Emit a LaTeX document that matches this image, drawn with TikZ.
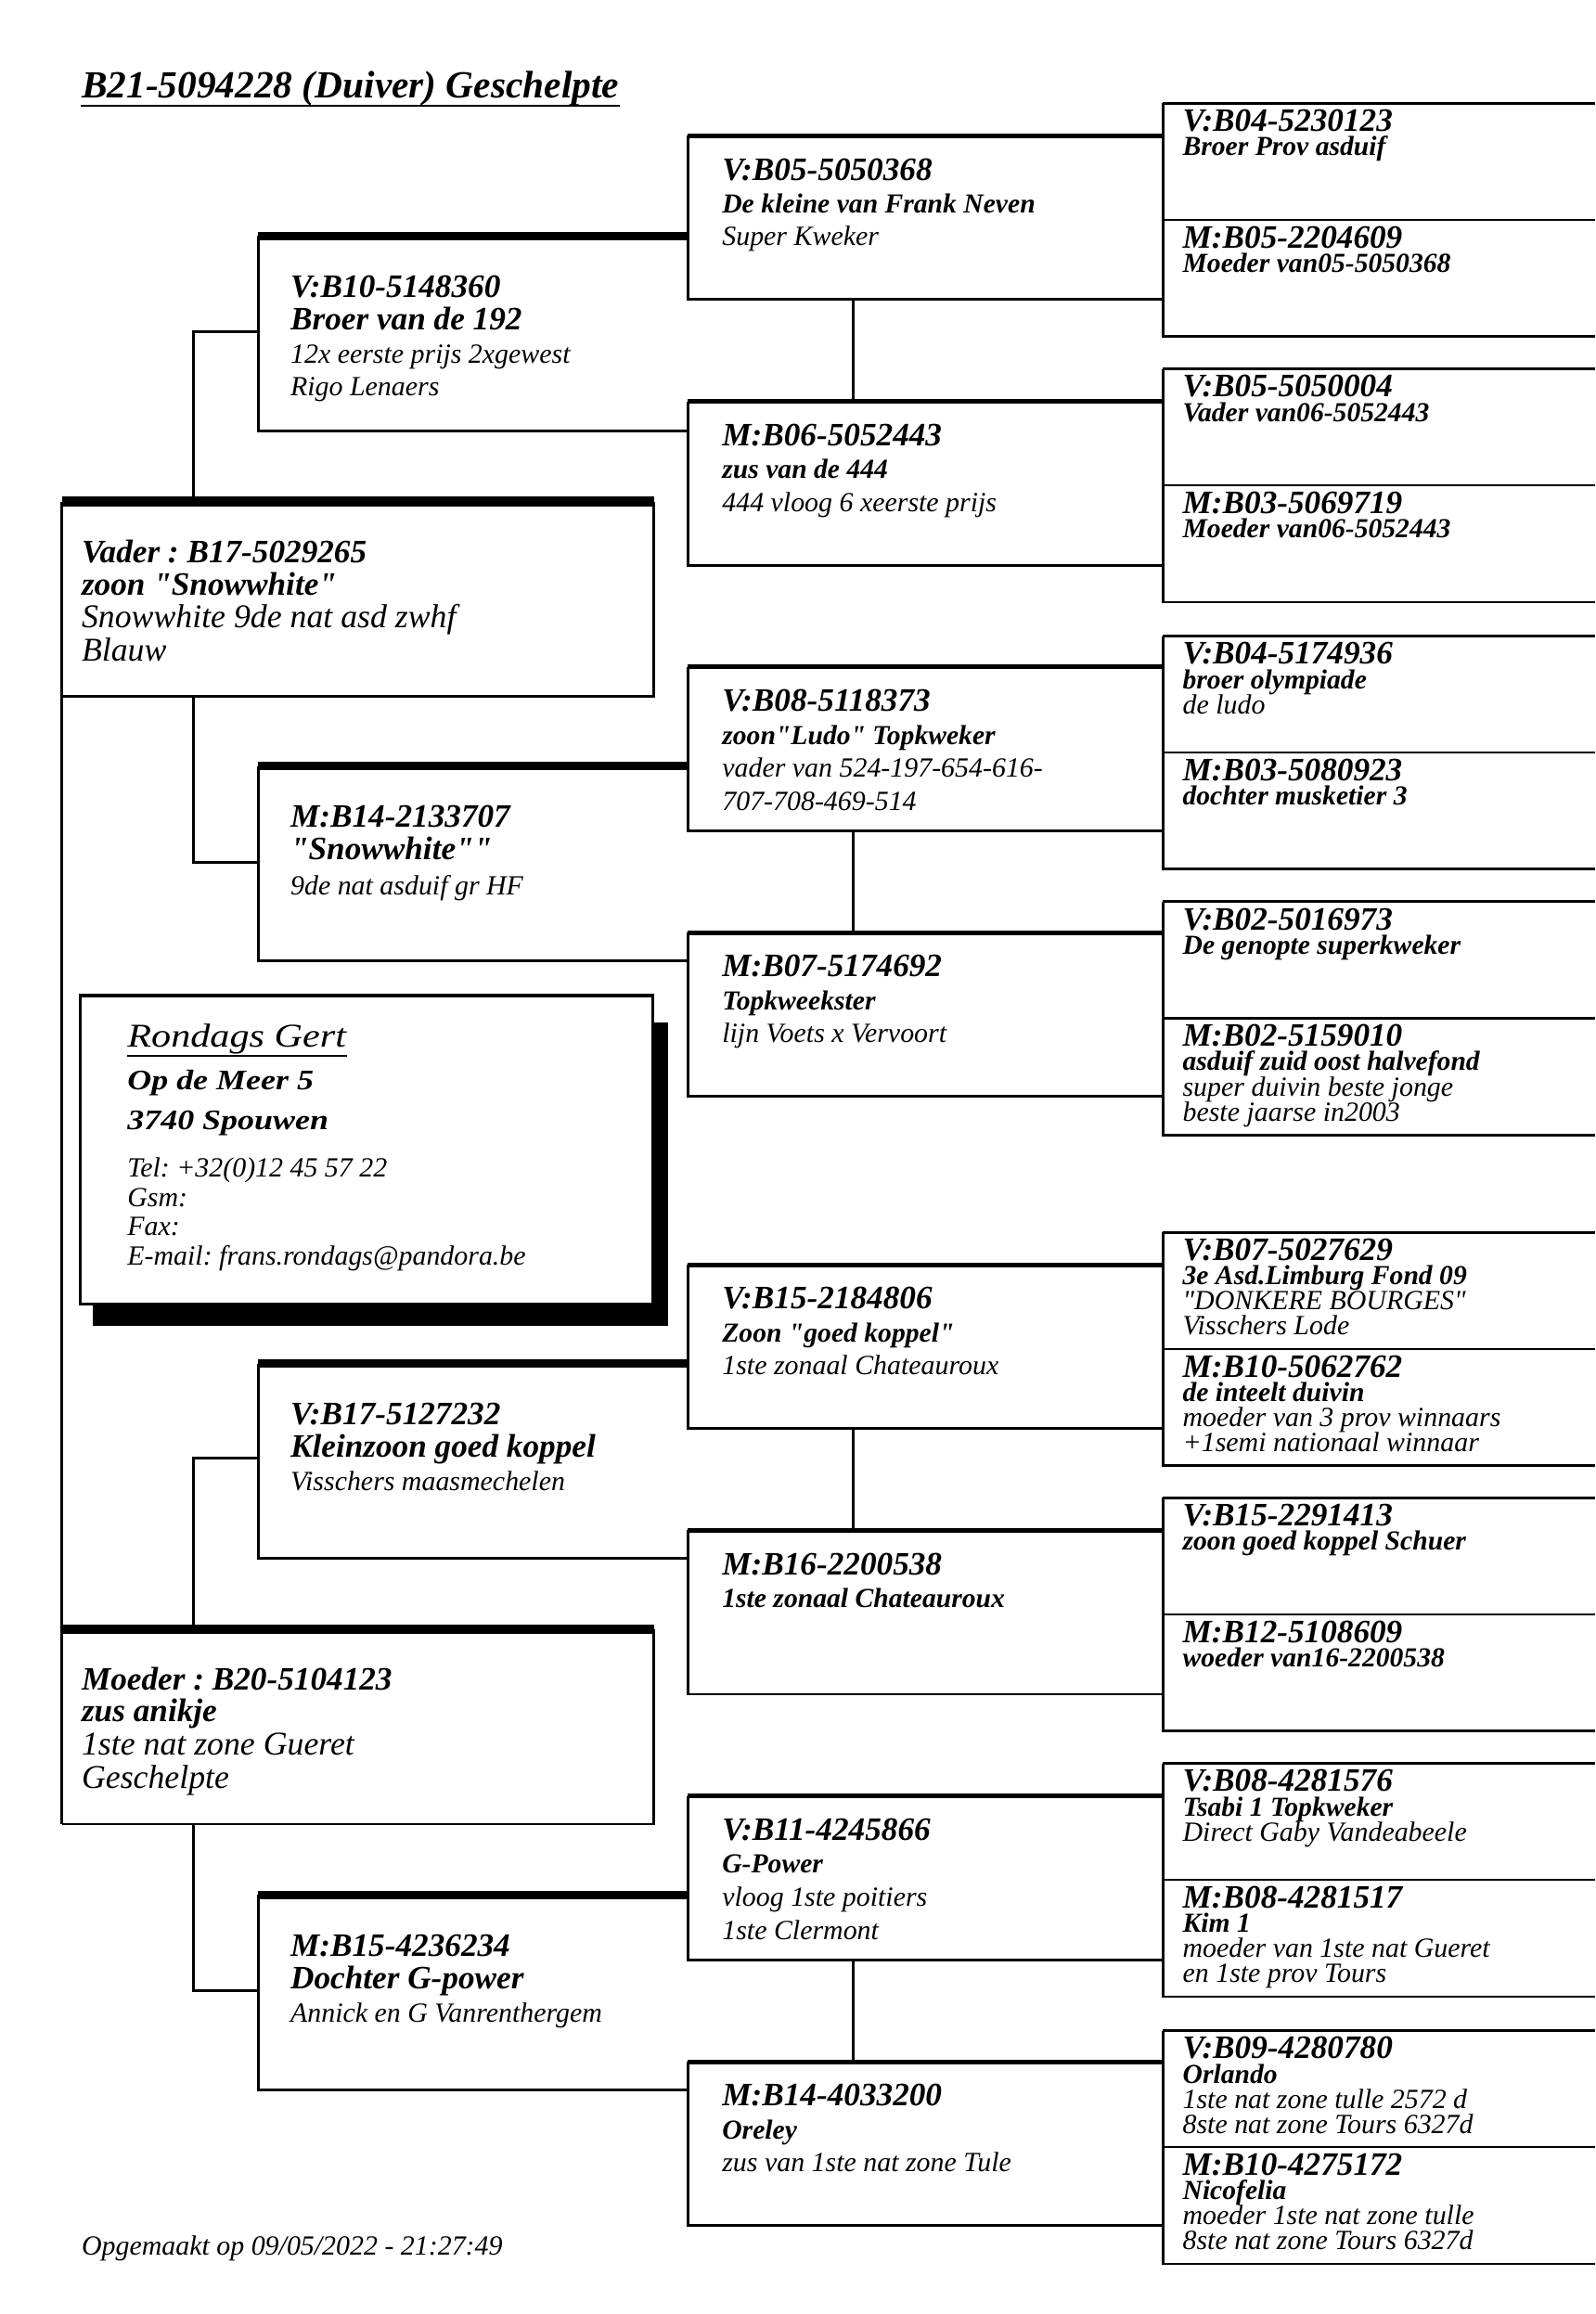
\documentclass[tikz,border=0pt]{standalone}
\usepackage{fontspec}
\setmainfont{Liberation Serif}
\newfontfamily\addrfont[FakeStretch=1.18]{Liberation Serif}
\newcommand{\dq}{\textquotedbl}
\tikzset{
  idline/.style={anchor=base west,inner sep=0pt,font=\fontsize{12.6}{14}\selectfont\bfseries\itshape},
  bigline/.style={anchor=base west,inner sep=0pt,font=\fontsize{12.8}{14}\selectfont\itshape},
  boldline/.style={anchor=base west,inner sep=0pt,font=\fontsize{10.6}{12}\selectfont\bfseries\itshape},
  smallline/.style={anchor=base west,inner sep=0pt,font=\fontsize{10.7}{12}\selectfont\itshape},
  boxline/.style={line width=1pt},
  divline/.style={line width=0.75pt},
  top1/.style={line width=3.8pt},
  top2/.style={line width=3.2pt},
  top3/.style={line width=1.8pt},
  top4/.style={line width=1pt}
}
\begin{document}
\frenchspacing
\begin{tikzpicture}[x=0.2mm,y=-0.2mm]
\path[use as bounding box,fill=white] (0,0) rectangle (1081,1568);
% title
\node[anchor=base west,inner sep=0pt,font=\fontsize{14.8}{16}\selectfont\bfseries\itshape] (title) at (55,66.6) {B21-5094228 (Duiver) Geschelpte};
\draw[line width=0.8pt] ([yshift=-2.9pt]title.base west) -- ([yshift=-2.9pt]title.base east);
% generation 4 boxes
\foreach \t in {70,250,431,611,835,1015,1195,1376} {
  \draw[boxline] (788,\t) -- (788,\t+158) -- (1081,\t+158);
  \draw[divline] (788,\t+79) -- (1081,\t+79);
  \draw[top4] (788,\t) -- (1081,\t);
}
% generation 3 boxes
\foreach \t in {92,272,452,632,857,1037,1217,1397} {
  \draw[boxline] (466,\t) -- (466,\t+111) -- (788,\t+111);
  \draw[top3] (466,\t) -- (788,\t);
}
\foreach \t in {92,452,857,1217}
  \draw[boxline] (578,\t+111) -- (578,\t+180);
% generation 2 boxes
\foreach \t in {160,519,924,1284} {
  \draw[boxline] (175,\t) -- (175,\t+132) -- (466,\t+132);
  \draw[top2] (175,\t) -- (466,\t);
}
% parents
\draw[boxline] (42,340) -- (42,1236);
\foreach \t in {340,1104} {
  \draw[boxline] (443,\t) -- (443,\t+132) -- (42,\t+132);
  \draw[top1] (42,\t) -- (443,\t);
}
\coordinate (vader-up) at (131,340);
\coordinate (vader-dn) at (131,472);
\coordinate (moeder-up) at (131,1104);
\coordinate (moeder-dn) at (131,1236);
\coordinate (vv-in) at (175,225);
\coordinate (vm-in) at (175,584.5);
\coordinate (mv-in) at (175,988);
\coordinate (mm-in) at (175,1349);
\draw[boxline] (vader-up) |- (vv-in);
\draw[boxline] (vader-dn) |- (vm-in);
\draw[boxline] (moeder-up) |- (mv-in);
\draw[boxline] (moeder-dn) |- (mm-in);
% owner card
\fill (62.9,693) rectangle (452.7,898.2);
\draw[line width=1.2pt,fill=white] (54.5,674.5) rectangle (442.4,883.7);
\node[anchor=base west,inner sep=0pt,font=\addrfont\fontsize{12.8}{14}\selectfont\itshape] (owner) at (86,709.2) {Rondags Gert};
\draw[line width=0.8pt] ([yshift=-3.6pt]owner.base west) -- ([yshift=-3.6pt]owner.base east);
\node[anchor=base west,inner sep=0pt,font=\addrfont\fontsize{10.9}{12}\selectfont\bfseries\itshape] (street) at (86,738.1) {Op de Meer 5};
\node[anchor=base west,inner sep=0pt,font=\addrfont\fontsize{10.9}{12}\selectfont\bfseries\itshape] (town) at (86,765.4) {3740 Spouwen};
\node[smallline] (tel) at (86,797.8) {Tel: +32(0)12 45 57 22};
\node[smallline] (gsm) at (86,817.5) {Gsm:};
\node[smallline] (fax) at (86,837.4) {Fax:};
\node[smallline] (mail) at (86,857.5) {E-mail: frans.rondags@pandora.be};
% vader / moeder
\node[idline] (vader-1) at (55,381.5) {Vader : B17-5029265};
\node[idline] (vader-2) at (55,403) {zoon \dq Snowwhite\dq};
\node[bigline] (vader-3) at (55,425.5) {Snowwhite 9de nat asd zwhf};
\node[bigline] (vader-4) at (55,448) {Blauw};
\node[idline] (moeder-1) at (55,1145) {Moeder : B20-5104123};
\node[idline] (moeder-2) at (55,1166.6) {zus anikje};
\node[bigline] (moeder-3) at (55,1189.5) {1ste nat zone Gueret};
\node[bigline] (moeder-4) at (55,1211.7) {Geschelpte};
% grandparents
\node[idline] (vv-1) at (196.5,201.7) {V:B10-5148360};
\node[idline] (vv-2) at (196.5,223.6) {Broer van de 192};
\node[smallline] (vv-3) at (196.5,246) {12x eerste prijs 2xgewest};
\node[smallline] (vv-4) at (196.5,268.3) {Rigo Lenaers};
\node[idline] (vm-1) at (196.5,560.3) {M:B14-2133707};
\node[idline] (vm-2) at (196.5,582.7) {\dq Snowwhite\dq\dq};
\node[smallline] (vm-3) at (196.5,606.3) {9de nat asduif gr HF};
\node[idline] (mv-1) at (196.5,965.5) {V:B17-5127232};
\node[idline] (mv-2) at (196.5,987.5) {Kleinzoon goed koppel};
\node[smallline] (mv-3) at (196.5,1010) {Visschers maasmechelen};
\node[idline] (mm-1) at (196.5,1325.5) {M:B15-4236234};
\node[idline] (mm-2) at (196.5,1347.5) {Dochter G-power};
\node[smallline] (mm-3) at (196.5,1370) {Annick en G Vanrenthergem};
% great-grandparents
\node[idline] (vvv-1) at (489,122) {V:B05-5050368};
\node[boldline] (vvv-2) at (489,144.3) {De kleine van Frank Neven};
\node[smallline] (vvv-3) at (489,166.5) {Super Kweker};
\node[idline] (vvm-1) at (489,302) {M:B06-5052443};
\node[boldline] (vvm-2) at (489,324.3) {zus van de 444};
\node[smallline] (vvm-3) at (489,346.5) {444 vloog 6 xeerste prijs};
\node[idline] (vmv-1) at (489,482) {V:B08-5118373};
\node[boldline] (vmv-2) at (489,504.3) {zoon\dq Ludo\dq{} Topkweker};
\node[smallline] (vmv-3) at (489,526.5) {vader van 524-197-654-616-};
\node[smallline] (vmv-4) at (489,549) {707-708-469-514};
\node[idline] (vmm-1) at (489,662) {M:B07-5174692};
\node[boldline] (vmm-2) at (489,684.3) {Topkweekster};
\node[smallline] (vmm-3) at (489,706.5) {lijn Voets x Vervoort};
\node[idline] (mvv-1) at (489,887) {V:B15-2184806};
\node[boldline] (mvv-2) at (489,909.3) {Zoon \dq goed koppel\dq};
\node[smallline] (mvv-3) at (489,931.5) {1ste zonaal Chateauroux};
\node[idline] (mvm-1) at (489,1067) {M:B16-2200538};
\node[boldline] (mvm-2) at (489,1089.3) {1ste zonaal Chateauroux};
\node[idline] (mmv-1) at (489,1247) {V:B11-4245866};
\node[boldline] (mmv-2) at (489,1269.3) {G-Power};
\node[smallline] (mmv-3) at (489,1291.5) {vloog 1ste poitiers};
\node[smallline] (mmv-4) at (489,1314) {1ste Clermont};
\node[idline] (mmm-1) at (489,1427) {M:B14-4033200};
\node[boldline] (mmm-2) at (489,1449.3) {Oreley};
\node[smallline] (mmm-3) at (489,1471.5) {zus van 1ste nat zone Tule};
% generation 4
\node[idline] (vvvv-1) at (801,89) {V:B04-5230123};
\node[boldline] (vvvv-2) at (801,105.5) {Broer Prov asduif};
\node[idline] (vvvm-1) at (801,168) {M:B05-2204609};
\node[boldline] (vvvm-2) at (801,184.5) {Moeder van05-5050368};
\node[idline] (vvmv-1) at (801,269) {V:B05-5050004};
\node[boldline] (vvmv-2) at (801,285.5) {Vader van06-5052443};
\node[idline] (vvmm-1) at (801,348) {M:B03-5069719};
\node[boldline] (vvmm-2) at (801,364.5) {Moeder van06-5052443};
\node[idline] (vmvv-1) at (801,450) {V:B04-5174936};
\node[boldline] (vmvv-2) at (801,466.5) {broer olympiade};
\node[smallline] (vmvv-3) at (801,483.5) {de ludo};
\node[idline] (vmvm-1) at (801,529) {M:B03-5080923};
\node[boldline] (vmvm-2) at (801,545.5) {dochter musketier 3};
\node[idline] (vmmv-1) at (801,630) {V:B02-5016973};
\node[boldline] (vmmv-2) at (801,646.5) {De genopte superkweker};
\node[idline] (vmmm-1) at (801,709) {M:B02-5159010};
\node[boldline] (vmmm-2) at (801,725.5) {asduif zuid oost halvefond};
\node[smallline] (vmmm-3) at (801,742.5) {super duivin beste jonge};
\node[smallline] (vmmm-4) at (801,759.5) {beste jaarse in2003};
\node[idline] (mvvv-1) at (801,854) {V:B07-5027629};
\node[boldline] (mvvv-2) at (801,870.5) {3e Asd.Limburg Fond 09};
\node[smallline] (mvvv-3) at (801,887.5) {\dq DONKERE BOURGES\dq};
\node[smallline] (mvvv-4) at (801,904.5) {Visschers Lode};
\node[idline] (mvvm-1) at (801,933) {M:B10-5062762};
\node[boldline] (mvvm-2) at (801,949.5) {de inteelt duivin};
\node[smallline] (mvvm-3) at (801,966.5) {moeder van 3 prov winnaars};
\node[smallline] (mvvm-4) at (801,983.5) {+1semi nationaal winnaar};
\node[idline] (mvmv-1) at (801,1034) {V:B15-2291413};
\node[boldline] (mvmv-2) at (801,1050.5) {zoon goed koppel Schuer};
\node[idline] (mvmm-1) at (801,1113) {M:B12-5108609};
\node[boldline] (mvmm-2) at (801,1129.5) {woeder van16-2200538};
\node[idline] (mmvv-1) at (801,1214) {V:B08-4281576};
\node[boldline] (mmvv-2) at (801,1230.5) {Tsabi 1 Topkweker};
\node[smallline] (mmvv-3) at (801,1247.5) {Direct Gaby Vandeabeele};
\node[idline] (mmvm-1) at (801,1293) {M:B08-4281517};
\node[boldline] (mmvm-2) at (801,1309.5) {Kim 1};
\node[smallline] (mmvm-3) at (801,1326.5) {moeder van 1ste nat Gueret};
\node[smallline] (mmvm-4) at (801,1343.5) {en 1ste prov Tours};
\node[idline] (mmmv-1) at (801,1395) {V:B09-4280780};
\node[boldline] (mmmv-2) at (801,1411.5) {Orlando};
\node[smallline] (mmmv-3) at (801,1428.5) {1ste nat zone tulle 2572 d};
\node[smallline] (mmmv-4) at (801,1445.5) {8ste nat zone Tours 6327d};
\node[idline] (mmmm-1) at (801,1474) {M:B10-4275172};
\node[boldline] (mmmm-2) at (801,1490.5) {Nicofelia};
\node[smallline] (mmmm-3) at (801,1507.5) {moeder 1ste nat zone tulle};
\node[smallline] (mmmm-4) at (801,1524.5) {8ste nat zone Tours 6327d};
% footer
\node[smallline] (stamp) at (55,1528) {Opgemaakt op 09/05/2022 - 21:27:49};
\end{tikzpicture}
\end{document}
